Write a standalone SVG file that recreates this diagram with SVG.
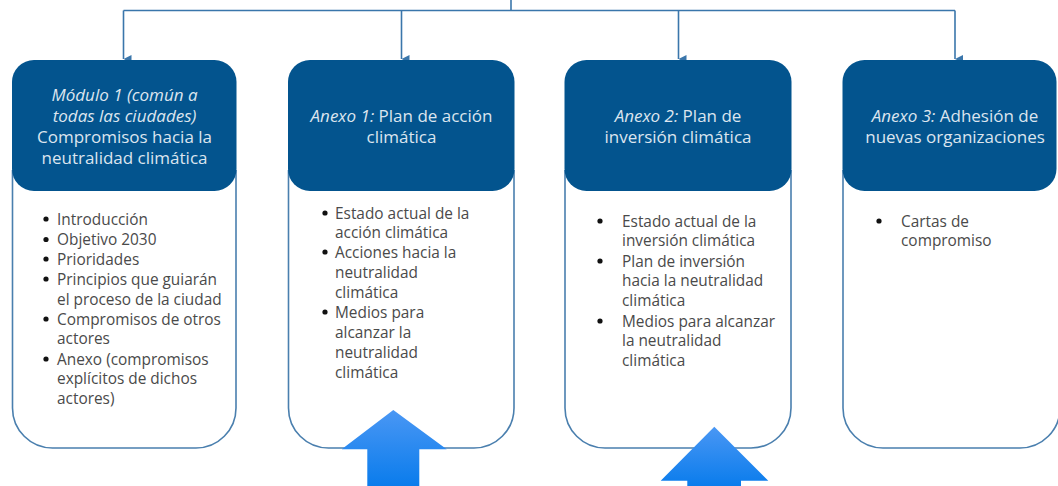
<svg xmlns="http://www.w3.org/2000/svg" width="1058" height="486" viewBox="0 0 1058 486">
<defs>
<style>
.conn{fill:none;stroke:#3a76ab;stroke-width:1.6}
.body{fill:#fff;stroke:#4a7fae;stroke-width:1.6}
.head{fill:#03548e}
.ht{font-family:"Open Sans","Noto Sans",sans-serif;font-size:17px;fill:#dce5ef;text-anchor:middle}
.ht .i{font-style:italic}
.bt{font-family:"Open Sans","Noto Sans",sans-serif;font-size:15.4px;fill:#4a4a4a}
.dot{fill:#111}
.big{fill:url(#g)}
</style>
<marker id="ah" viewBox="0 0 8 8" refX="4" refY="8" markerWidth="8" markerHeight="8" markerUnits="userSpaceOnUse" orient="auto-start-reverse">
<path d="M0,0 L8,0 L4,8 Z" fill="#3a76ab"/>
</marker>
<linearGradient id="g" x1="0" y1="0" x2="0" y2="1">
<stop offset="0" stop-color="#4a97f4"/>
<stop offset="1" stop-color="#0a7cec"/>
</linearGradient>
</defs>

<g id="connectors">
<path class="conn" d="M511,0 V10.5"/>
<path class="conn" d="M123.5,10.5 H955"/>
<path class="conn" d="M123.5,10.5 V59" marker-end="url(#ah)"/>
<path class="conn" d="M401.5,10.5 V59" marker-end="url(#ah)"/>
<path class="conn" d="M678.5,10.5 V59" marker-end="url(#ah)"/>
<path class="conn" d="M955,10.5 V59" marker-end="url(#ah)"/>
</g>

<g id="node1">
<path class="body" d="M12.5,170 V408 A40,40 0 0 0 52.5,448 H196 A40,40 0 0 0 236,408 V170"/>
<rect class="head" x="12" y="60" width="224.5" height="131" rx="22"/>
<text class="ht"><tspan class="i" x="124.5" y="101">Módulo 1 (común a</tspan><tspan class="i" x="124.5" y="122">todas las ciudades)</tspan><tspan x="124.5" y="143">Compromisos hacia la</tspan><tspan x="124.5" y="164">neutralidad climática</tspan></text>
<g class="dot"><circle cx="46" cy="219" r="2.6"/><circle cx="46" cy="239.5" r="2.6"/><circle cx="46" cy="259" r="2.6"/><circle cx="46" cy="279" r="2.6"/><circle cx="46" cy="319" r="2.6"/><circle cx="46" cy="359" r="2.6"/></g>
<text class="bt"><tspan x="57" y="224.5">Introducción</tspan><tspan x="57" y="245">Objetivo 2030</tspan><tspan x="57" y="264.5">Prioridades</tspan><tspan x="57" y="284.5">Principios que guiarán</tspan><tspan x="57" y="304.5">el proceso de la ciudad</tspan><tspan x="57" y="324.5">Compromisos de otros</tspan><tspan x="57" y="344">actores</tspan><tspan x="57" y="364.5">Anexo (compromisos</tspan><tspan x="57" y="384">explícitos de dichos</tspan><tspan x="57" y="403.5">actores)</tspan></text>
</g>

<g id="node2">
<path class="body" d="M288.5,170 V408 A40,40 0 0 0 328.5,448 H474 A40,40 0 0 0 514,408 V170"/>
<rect class="head" x="288" y="60" width="226.5" height="131" rx="22"/>
<text class="ht"><tspan x="401.5" y="122"><tspan class="i">Anexo 1:</tspan> Plan de acción</tspan><tspan x="401.5" y="143">climática</tspan></text>
<g class="dot"><circle cx="325" cy="213" r="2.6"/><circle cx="325" cy="252" r="2.6"/><circle cx="325" cy="312" r="2.6"/></g>
<text class="bt"><tspan x="335" y="218.5">Estado actual de la</tspan><tspan x="335" y="238">acción climática</tspan><tspan x="335" y="257.5">Acciones hacia la</tspan><tspan x="335" y="278">neutralidad</tspan><tspan x="335" y="297.5">climática</tspan><tspan x="335" y="317.5">Medios para</tspan><tspan x="335" y="338">alcanzar la</tspan><tspan x="335" y="357.5">neutralidad</tspan><tspan x="335" y="377.5">climática</tspan></text>
</g>

<g id="node3">
<path class="body" d="M565,170 V408 A40,40 0 0 0 605,448 H751 A40,40 0 0 0 791,408 V170"/>
<rect class="head" x="564.5" y="60" width="227" height="131" rx="22"/>
<text class="ht"><tspan x="678" y="122"><tspan class="i">Anexo 2:</tspan> Plan de</tspan><tspan x="678" y="143">inversión climática</tspan></text>
<g class="dot"><circle cx="600" cy="221" r="2.6"/><circle cx="600" cy="261" r="2.6"/><circle cx="600" cy="321" r="2.6"/></g>
<text class="bt"><tspan x="622" y="226.5">Estado actual de la</tspan><tspan x="622" y="246">inversión climática</tspan><tspan x="622" y="266.5">Plan de inversión</tspan><tspan x="622" y="286">hacia la neutralidad</tspan><tspan x="622" y="305.5">climática</tspan><tspan x="622" y="326.5">Medios para alcanzar</tspan><tspan x="622" y="346">la neutralidad</tspan><tspan x="622" y="365.5">climática</tspan></text>
</g>

<g id="node4">
<path class="body" d="M843,170 V408 A40,40 0 0 0 883,448 H1020 A40,40 0 0 0 1060,408 V170"/>
<rect class="head" x="842.5" y="60" width="214" height="131" rx="22"/>
<text class="ht"><tspan x="955" y="122"><tspan class="i">Anexo 3:</tspan> Adhesión de</tspan><tspan x="955" y="143">nuevas organizaciones</tspan></text>
<circle class="dot" cx="879" cy="221" r="2.6"/>
<text class="bt"><tspan x="901" y="226.5">Cartas de</tspan><tspan x="901" y="246">compromiso</tspan></text>
</g>

<g id="arrow1">
<path class="big" d="M393.3,410 L446.7,449.3 H419.3 V486 H367.3 V449.3 H341.7 Z"/>
</g>
<g id="arrow2">
<path class="big" d="M714.3,426.7 L768.3,480.7 H741 V486 H687.3 V480.7 H660.7 Z"/>
</g>
</svg>
